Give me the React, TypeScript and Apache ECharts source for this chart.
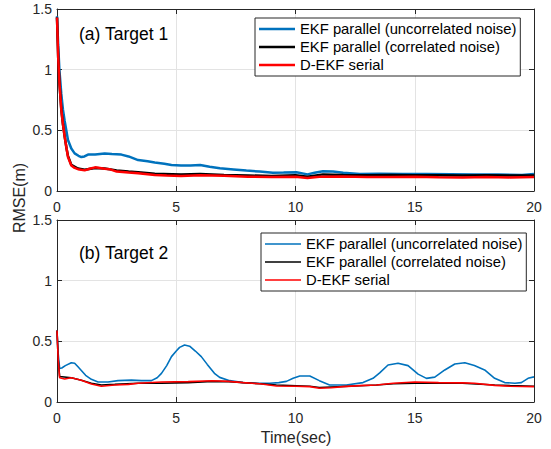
import React, { useEffect, useRef } from "react";
import * as echarts from "echarts";

const NAMES = [
  "EKF parallel (uncorrelated noise)",
  "EKF parallel (correlated noise)",
  "D-EKF serial",
];
const COLORS = ["#0072BD", "#000000", "#FF0000"];

// Target 1 (time, RMSE)
const T1_BLUE: [number, number][] = [
  [0, 1.44], [0.05, 1.2], [0.1, 1.0], [0.18, 0.8], [0.25, 0.67], [0.32, 0.58], [0.46, 0.42],
  [0.6, 0.35], [0.74, 0.31], [0.9, 0.29], [1.02, 0.28], [1.15, 0.285], [1.3, 0.3], [1.6, 0.3],
  [2.0, 0.31], [2.3, 0.305], [2.7, 0.3], [3.0, 0.285], [3.4, 0.255], [3.8, 0.245], [4.1, 0.235],
  [4.5, 0.225], [4.8, 0.215], [5.2, 0.21], [5.6, 0.21], [6.0, 0.214], [6.4, 0.2], [6.83, 0.187],
  [7.4, 0.178], [7.94, 0.168], [8.5, 0.16], [9.05, 0.151], [9.5, 0.152], [10.04, 0.154],
  [10.5, 0.137], [10.8, 0.15], [11.15, 0.162], [11.57, 0.16], [12.0, 0.15], [12.7, 0.14],
  [13.5, 0.142], [14.5, 0.14], [15.5, 0.14], [16.5, 0.138], [17.5, 0.136], [18.5, 0.135],
  [19.5, 0.132], [20, 0.14],
];
const T1_BLACK: [number, number][] = [
  [0, 1.43], [0.05, 1.1], [0.1, 0.9], [0.18, 0.67], [0.25, 0.55], [0.32, 0.45], [0.4, 0.35],
  [0.46, 0.29], [0.6, 0.215], [0.88, 0.185], [1.16, 0.175], [1.6, 0.19], [2.0, 0.185],
  [2.5, 0.17], [3.0, 0.16], [3.4, 0.155], [4.1, 0.142], [5.2, 0.135], [6.0, 0.14], [7, 0.132],
  [8, 0.128], [9, 0.124], [10, 0.13], [10.5, 0.118], [11.15, 0.137], [12, 0.132], [13, 0.13],
  [14, 0.132], [15, 0.13], [16, 0.13], [17, 0.128], [18, 0.13], [19, 0.128], [20, 0.128],
];
const T1_RED: [number, number][] = [
  [0, 1.43], [0.05, 1.1], [0.1, 0.9], [0.18, 0.67], [0.25, 0.55], [0.32, 0.45], [0.4, 0.35],
  [0.46, 0.28], [0.6, 0.21], [0.74, 0.19], [0.88, 0.18], [1.16, 0.17], [1.4, 0.185],
  [1.6, 0.195], [2.0, 0.184], [2.2, 0.18], [2.5, 0.16], [3.0, 0.152], [3.4, 0.146],
  [4.1, 0.132], [4.6, 0.128], [5.2, 0.124], [6.0, 0.13], [7, 0.125], [8, 0.118], [9, 0.115],
  [10, 0.118], [10.5, 0.108], [11, 0.118], [12, 0.12], [13, 0.116], [14, 0.115], [15, 0.118],
  [16, 0.114], [17, 0.112], [18, 0.116], [19, 0.112], [20, 0.115],
];

// Target 2 (time, RMSE)
const T2_BLUE: [number, number][] = [
  [0, 0.59], [0.05, 0.4], [0.11, 0.277], [0.2, 0.28], [0.35, 0.3], [0.6, 0.324], [0.74, 0.32],
  [0.88, 0.29], [1.02, 0.26], [1.2, 0.22], [1.44, 0.187], [1.72, 0.165], [2.14, 0.165],
  [2.56, 0.176], [3.12, 0.18], [3.54, 0.176], [3.96, 0.176], [4.2, 0.2], [4.38, 0.236],
  [4.6, 0.3], [4.8, 0.374], [5.0, 0.42], [5.14, 0.45], [5.35, 0.47], [5.56, 0.46], [5.8, 0.42],
  [6.05, 0.374], [6.3, 0.31], [6.6, 0.236], [6.82, 0.203], [7.24, 0.176], [7.8, 0.16],
  [8.4, 0.155], [8.92, 0.154], [9.3, 0.16], [9.62, 0.17], [9.9, 0.195], [10.18, 0.214],
  [10.6, 0.214], [11.0, 0.176], [11.43, 0.14], [12.13, 0.14], [12.83, 0.16], [13.25, 0.195],
  [13.53, 0.24], [13.88, 0.305], [14.3, 0.32], [14.72, 0.3], [15.14, 0.23], [15.49, 0.195],
  [15.84, 0.205], [16.26, 0.264], [16.68, 0.313], [17.1, 0.324], [17.5, 0.3], [17.93, 0.264],
  [18.35, 0.195], [18.77, 0.16], [19.2, 0.155], [19.47, 0.16], [19.75, 0.195], [20, 0.207],
];
const T2_BLACK: [number, number][] = [
  [0, 0.59], [0.05, 0.35], [0.11, 0.21], [0.6, 0.2], [1.02, 0.18], [1.44, 0.155], [1.86, 0.14],
  [2.42, 0.145], [3.4, 0.155], [4.38, 0.155], [5.5, 0.16], [6.5, 0.17], [7.2, 0.168],
  [8.5, 0.15], [9.2, 0.14], [10.6, 0.13], [11.0, 0.12], [12, 0.128], [13.4, 0.14],
  [14.1, 0.15], [15, 0.155], [16, 0.155], [17, 0.155], [18.35, 0.14], [19, 0.135], [20, 0.13],
];
const T2_RED: [number, number][] = [
  [0, 0.59], [0.05, 0.35], [0.11, 0.2], [0.32, 0.19], [0.6, 0.2], [1.02, 0.18], [1.44, 0.148],
  [1.86, 0.13], [2.42, 0.14], [3.0, 0.145], [3.4, 0.155], [4.38, 0.165], [5.5, 0.168],
  [6.5, 0.175], [7.2, 0.17], [7.8, 0.16], [8.5, 0.15], [9.2, 0.132], [10.0, 0.13],
  [10.6, 0.127], [11.0, 0.113], [11.5, 0.118], [12.0, 0.127], [12.7, 0.135], [13.4, 0.14],
  [14.1, 0.155], [15.0, 0.165], [16.0, 0.16], [17.0, 0.158], [17.5, 0.155], [18.35, 0.137],
  [19.0, 0.13], [20, 0.127],
];

const FONT = "Liberation Sans, Arial, Helvetica, sans-serif";
const AXIS_COLOR = "#262626";

export default function App() {
  const ref = useRef<HTMLDivElement>(null);
  useEffect(() => {
    if (!ref.current) return;
    const chart = echarts.init(ref.current, undefined, { renderer: "svg" });

    const mkX = (gridIndex: number, main: boolean) => ({
      type: "value",
      gridIndex,
      min: 0,
      max: 20,
      interval: 5,
      position: main ? "bottom" : "top",
      axisLine: { show: true, onZero: false, lineStyle: { color: AXIS_COLOR, width: 1 } },
      axisTick: { show: true, inside: true, length: 5, lineStyle: { color: AXIS_COLOR } },
      axisLabel: {
        show: main,
        color: AXIS_COLOR,
        fontSize: 14,
        fontFamily: FONT,
        margin: 9,
      },
      splitLine: { show: main, lineStyle: { color: "#e3e3e3", width: 1 } },
    });
    const mkY = (gridIndex: number, main: boolean) => ({
      type: "value",
      gridIndex,
      min: 0,
      max: 1.5,
      interval: 0.5,
      position: main ? "left" : "right",
      axisLine: { show: true, onZero: false, lineStyle: { color: AXIS_COLOR, width: 1 } },
      axisTick: { show: true, inside: true, length: 5, lineStyle: { color: AXIS_COLOR } },
      axisLabel: {
        show: main,
        color: AXIS_COLOR,
        fontSize: 14,
        fontFamily: FONT,
        margin: 5,
        formatter: (v: number) => String(v),
      },
      splitLine: { show: main, lineStyle: { color: "#e3e3e3", width: 1 } },
    });

    const mkSeries = (
      name: string,
      data: [number, number][],
      color: string,
      width: number,
      axisIndex: number
    ) => ({
      type: "line",
      name,
      data,
      xAxisIndex: axisIndex,
      yAxisIndex: axisIndex,
      showSymbol: false,
      symbol: "none",
      lineStyle: { color, width },
      itemStyle: { color },
      z: 3,
    });

    const mkLegend = (left: number, top: number, h: number) => ({
      orient: "vertical",
      left,
      top,
      itemWidth: 36,
      itemHeight: h,
      itemGap: 0,
      padding: [2, 4, 2, 4],
      borderColor: AXIS_COLOR,
      borderWidth: 1,
      backgroundColor: "#ffffff",
      selectedMode: false,
      textStyle: {
        fontSize: 14.8,
        fontFamily: FONT,
        color: "#000",
        lineHeight: 18,
        height: 18,
      },
      data: NAMES.map((n, i) => ({
        name: n,
        icon: "rect",
        itemStyle: { color: COLORS[i], borderWidth: 0 },
      })),
    });

    const option = {
      animation: false,
      backgroundColor: "#ffffff",
      grid: [
        { left: 57, top: 9, width: 477, height: 182, containLabel: false },
        { left: 57, top: 220, width: 477, height: 182, containLabel: false },
      ],
      xAxis: [mkX(0, true), mkX(1, true), mkX(0, false), mkX(1, false)],
      yAxis: [mkY(0, true), mkY(1, true), mkY(0, false), mkY(1, false)],
      legend: [mkLegend(255, 18, 2.5), mkLegend(261, 233, 1.6)],
      series: [
        mkSeries(NAMES[0], T1_BLUE, COLORS[0], 2.5, 0),
        mkSeries(NAMES[1], T1_BLACK, COLORS[1], 2.5, 0),
        mkSeries(NAMES[2], T1_RED, COLORS[2], 2.5, 0),
        mkSeries(NAMES[0], T2_BLUE, COLORS[0], 1.6, 1),
        mkSeries(NAMES[1], T2_BLACK, COLORS[1], 1.6, 1),
        mkSeries(NAMES[2], T2_RED, COLORS[2], 1.6, 1),
      ],
      graphic: [
        {
          type: "text",
          x: 79,
          y: 34,
          style: {
            text: "(a) Target 1",
            fontSize: 17.5,
            fontFamily: FONT,
            fill: "#000",
            verticalAlign: "middle",
          },
        },
        {
          type: "text",
          x: 79,
          y: 253,
          style: {
            text: "(b) Target 2",
            fontSize: 17.5,
            fontFamily: FONT,
            fill: "#000",
            verticalAlign: "middle",
          },
        },
        {
          type: "text",
          x: 19,
          y: 198,
          rotation: Math.PI / 2,
          style: {
            text: "RMSE(m)",
            fontSize: 16,
            fontFamily: FONT,
            fill: AXIS_COLOR,
            align: "center",
            verticalAlign: "middle",
          },
        },
        {
          type: "text",
          x: 296,
          y: 437,
          style: {
            text: "Time(sec)",
            fontSize: 16,
            fontFamily: FONT,
            fill: AXIS_COLOR,
            align: "center",
            verticalAlign: "middle",
          },
        },
      ],
    };
    chart.setOption(option as any);
    return () => chart.dispose();
  }, []);
  return <div ref={ref} style={{ width: 551, height: 449, position: "absolute", left: 0, top: 0 }} />;
}
